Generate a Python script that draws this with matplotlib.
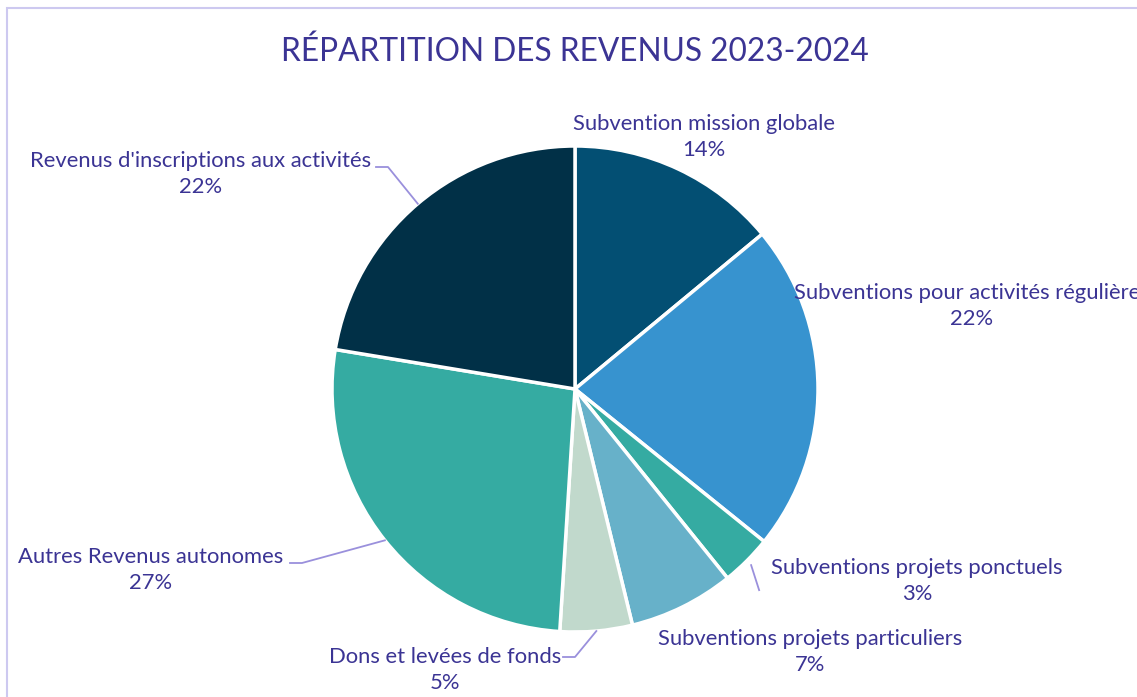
import numpy as np
import matplotlib.pyplot as plt
from matplotlib.patches import Rectangle

plt.rcParams['font.family'] = ['Lato', 'DejaVu Sans']

categories = ["Subvention mission globale",
              "Subventions pour activités régulières",
              "Subventions projets ponctuels",
              "Subventions projets particuliers",
              "Dons et levées de fonds",
              "Autres Revenus autonomes",
              "Revenus d'inscriptions aux activités"]
shares = [14.0, 21.8, 3.4, 7.0, 4.8, 26.6, 22.4]
colors = ["#034f73", "#3793cf", "#35aba2", "#67b1c9", "#c1d9cc", "#35aba2", "#013047"]

text_col = "#3b3494"
line_col = "#9a90dc"

W, H = 1137, 697
fig = plt.figure(figsize=(W / 100, H / 100), dpi=100)
ax = fig.add_axes([0, 0, 1, 1])

# outer chart border (runs off the right and bottom edges)
ax.add_patch(Rectangle((7, -20), W + 40, H - 8 + 20, fill=False,
                       edgecolor="#cdc9f0", linewidth=1.5))

cx, cy, r = 575, H - 389, 243
wedges, _ = ax.pie(shares, colors=colors, startangle=90, counterclock=False,
                   center=(cx, cy), radius=r, frame=True,
                   wedgeprops=dict(edgecolor="white", linewidth=2.5))
ax.set_xlim(0, W)
ax.set_ylim(0, H)
ax.set_aspect("equal")
ax.axis("off")

ax.text(575, H - 52, "RÉPARTITION DES REVENUS 2023-2024", ha="center", va="center",
        fontsize=22.8, color=text_col)

# label centers (px, top-down) and optional leader elbow
label_pos = [(704, 137, None),
             (972, 306, None),
             (917, 581, None),
             (810, 652, None),
             (445, 670, (563, 657, 575)),
             (151, 570, (290, 563, 302)),
             (201, 174, (376, 167, 388))]

for w, cat, share, (lx, ly, elbow) in zip(wedges, categories, shares, label_pos):
    ax.text(lx, H - ly, f"{cat}\n{share:.0f}%", ha="center", va="center",
            fontsize=15.8, color=text_col, linespacing=1.42)
    mid = np.deg2rad((w.theta1 + w.theta2) / 2)
    ex, ey = cx + r * np.cos(mid), cy + r * np.sin(mid)
    if elbow is not None:
        x0, y0, x1 = elbow
        ax.plot([x0, x1, ex], [H - y0, H - y0, ey], color=line_col, lw=1.3)
    elif cat == "Subventions projets ponctuels":
        sx, sy = cx + 1.025 * r * np.cos(mid), cy + 1.025 * r * np.sin(mid)
        ax.plot([sx, sx + 8], [sy, sy - 25], color=line_col, lw=1.3)

fig.savefig("out.png", dpi=100, facecolor="white")
